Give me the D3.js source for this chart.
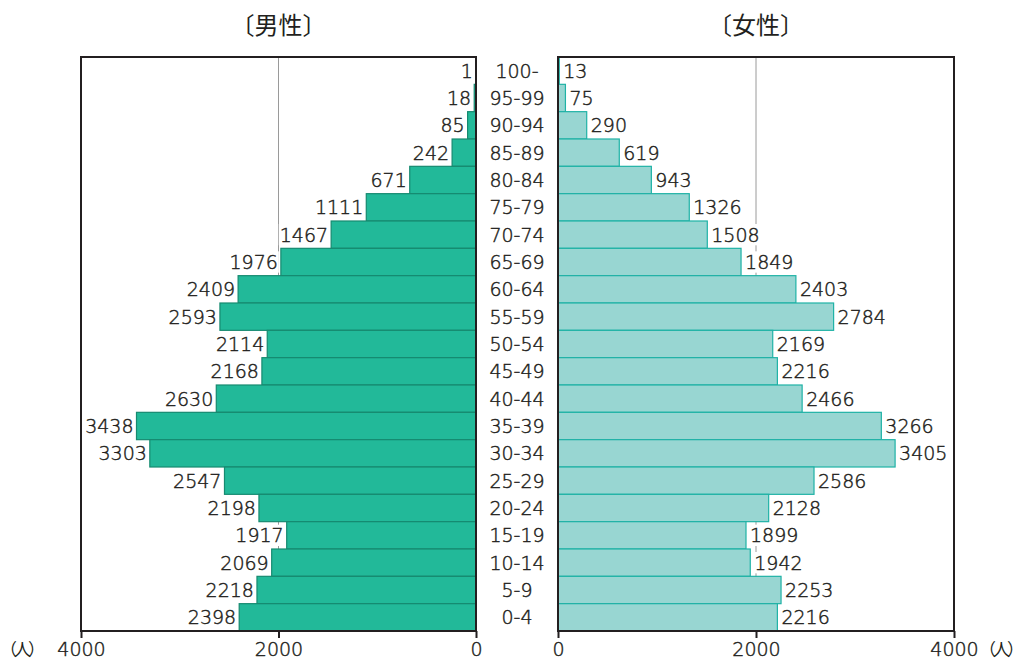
<!DOCTYPE html>
<html>
<head>
<meta charset="utf-8">
<script src="https://cdn.jsdelivr.net/npm/d3@7"></script>
<style>
  body { margin: 0; background: #fff; }
  svg text { font-family: "DejaVu Sans", "Noto Sans CJK JP", sans-serif; fill: #231f20; font-weight: 300;
             stroke: #231f20; stroke-width: 0.45px; }
  svg text.cjk { font-family: "Noto Sans CJK JP", sans-serif; font-weight: 400; stroke: none; }
</style>
</head>
<body>
<div id="wrapper"></div>
<script>
const ageGroups = ['100-', '95-99', '90-94', '85-89', '80-84', '75-79', '70-74', '65-69', '60-64', '55-59',
    '50-54', '45-49', '40-44', '35-39', '30-34', '25-29', '20-24', '15-19', '10-14', '5-9', '0-4']
const male = [1, 18, 85, 242, 671, 1111, 1467, 1976, 2409, 2593, 2114, 2168, 2630, 3438, 3303, 2547, 2198, 1917, 2069, 2218, 2398]
const female = [13, 75, 290, 619, 943, 1326, 1508, 1849, 2403, 2784, 2169, 2216, 2466, 3266, 3405, 2586, 2128, 1899, 1942, 2253, 2216]
const ticks = [0, 2000, 4000]

const dimensions = {
    width: 1021,
    height: 661,
    top: 57,
    bottom: 631,
    leftPanel: { x0: 476, x1: 81 },   // x of 0 and x of 4000
    rightPanel: { x0: 558, x1: 954 },
    ageX: 517
}
const fontSize = 19

const rows = ageGroups.map((a, i) => ({ age: a, male: male[i], female: female[i] }))

const svg = d3.select('#wrapper')
    .append('svg')
    .attr('width', dimensions.width)
    .attr('height', dimensions.height)

const yScale = d3.scaleBand()
    .domain(ageGroups)
    .range([dimensions.top, dimensions.bottom])
    .padding(0)

const xMale = d3.scaleLinear().domain([0, 4000]).range([dimensions.leftPanel.x0, dimensions.leftPanel.x1])
const xFemale = d3.scaleLinear().domain([0, 4000]).range([dimensions.rightPanel.x0, dimensions.rightPanel.x1])

function drawPanel(xScale, key, fill, stroke, side) {
    const g = svg.append('g')

    // grid at 2000
    g.append('line')
        .attr('x1', xScale(2000)).attr('x2', xScale(2000))
        .attr('y1', dimensions.top).attr('y2', dimensions.bottom)
        .attr('stroke', '#9a9a9a').attr('stroke-width', 1)

    g.append('g').selectAll('rect').data(rows).join('rect')
        .attr('x', d => Math.min(xScale(0), xScale(d[key])))
        .attr('y', d => yScale(d.age))
        .attr('width', d => Math.abs(xScale(d[key]) - xScale(0)))
        .attr('height', yScale.bandwidth())
        .attr('fill', fill)
        .attr('stroke', stroke)
        .attr('stroke-width', 1.2)

    // value labels on a white box
    const labels = g.append('g').selectAll('g').data(rows).join('g')
    labels.each(function (d) {
        const lg = d3.select(this)
        const end = xScale(d[key])
        const t = lg.append('text')
            .attr('y', yScale(d.age) + yScale.bandwidth() / 2)
            .attr('dy', '0.36em')
            .style('font-size', fontSize + 'px')
            .text(d[key])
        if (side === 'left') {
            t.attr('x', end - 3).attr('text-anchor', 'end')
        } else {
            t.attr('x', end + 4).attr('text-anchor', 'start')
        }
        const bb = t.node().getBBox()
        lg.insert('rect', 'text')
            .attr('x', bb.x - 1)
            .attr('y', yScale(d.age) + 3)
            .attr('width', bb.width + 2)
            .attr('height', yScale.bandwidth() - 6)
            .attr('fill', '#fff')
    })

    // frame
    const xa = Math.min(xScale(0), xScale(4000))
    const xb = Math.max(xScale(0), xScale(4000))
    g.append('rect')
        .attr('x', xa).attr('y', dimensions.top)
        .attr('width', xb - xa).attr('height', dimensions.bottom - dimensions.top)
        .attr('fill', 'none').attr('stroke', '#231f20').attr('stroke-width', 2)

    // axis
    const axis = d3.axisBottom(xScale).tickValues(ticks).tickFormat(d3.format('d'))
        .tickSize(7).tickPadding(5).tickSizeOuter(0)
    const ax = g.append('g')
        .attr('transform', `translate(0, ${dimensions.bottom})`)
        .call(axis)
    ax.select('.domain').remove()
    ax.selectAll('line').attr('stroke', '#231f20').attr('stroke-width', 2)
    ax.selectAll('text').style('font-size', fontSize + 'px').attr('fill', '#231f20')
        .attr('font-family', null)
    return g
}

drawPanel(xMale, 'male', '#22b999', '#168a70', 'left')
drawPanel(xFemale, 'female', '#98d6d2', '#1fb2a6', 'right')

// age labels
svg.append('g').selectAll('text').data(rows).join('text')
    .attr('x', dimensions.ageX)
    .attr('y', d => yScale(d.age) + yScale.bandwidth() / 2)
    .attr('dy', '0.36em')
    .attr('text-anchor', 'middle')
    .style('font-size', fontSize + 'px')
    .text(d => d.age)

// titles
svg.append('text').attr('class', 'cjk').attr('x', xMale(2000)).attr('y', 34).attr('text-anchor', 'middle')
    .style('font-size', '24px').text('〔男性〕')
svg.append('text').attr('class', 'cjk').attr('x', xFemale(2000)).attr('y', 34).attr('text-anchor', 'middle')
    .style('font-size', '24px').text('〔女性〕')

// unit labels
svg.append('text').attr('class', 'cjk').attr('x', 0).attr('y', 656)
    .style('font-size', '17px').style('letter-spacing', '-3px').text('（人）')
svg.append('text').attr('class', 'cjk').attr('x', 979).attr('y', 656)
    .style('font-size', '17px').style('letter-spacing', '-3px').text('（人）')
</script>
</body>
</html>
